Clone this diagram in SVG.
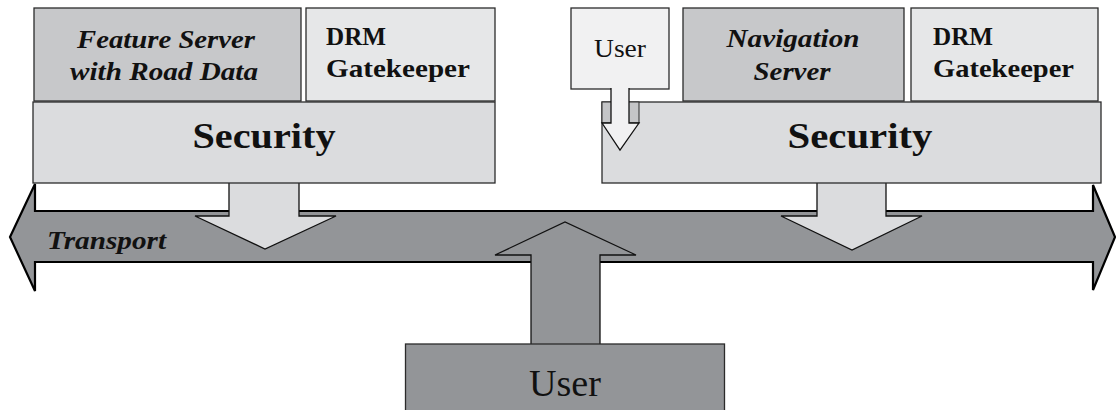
<svg xmlns="http://www.w3.org/2000/svg" width="1116" height="410" viewBox="0 0 1116 410">
<style>
text{font-family:"Liberation Serif","Times New Roman",serif;fill:#111}
.bx{stroke:#2b2b2b;stroke-width:1.3}
.srv{fill:#c7c8ca}
.drm{fill:#e6e7e8}
.sec{fill:#dbdcde}
.usr{fill:#f1f1f2}
.gry{fill:#939598}
.b{font-weight:bold}
.bi{font-weight:bold;font-style:italic}
.arr{stroke:#111;stroke-width:1.3;stroke-linejoin:miter}
</style>
<rect width="1116" height="410" fill="#ffffff"/>

<g id="transport">
<path class="gry" d="M10,237 L35,184 L35,211 L1093,211 L1093,185 L1115,237 L1093,290 L1093,262 L35,262 L35,291 Z" stroke="#000" stroke-width="2.2" stroke-linejoin="miter"/>
<text class="bi" x="47" y="249" font-size="25" textLength="119" lengthAdjust="spacingAndGlyphs">Transport</text>
</g>

<g id="connectors">
<path class="sec arr" d="M229,183 V216 H195 L265,249 L336,216 H299 V183"/>
<path class="sec arr" d="M817,183 V216 H781 L852,250 L922,216 H886 V183"/>
<path class="gry arr" d="M531,344 V255 H495 L565,222 L636,255 H600 V344"/>
</g>

<g id="user-bottom">
<rect class="gry bx" x="405.5" y="344" width="319" height="70"/>
<text x="565" y="396" font-size="38" text-anchor="middle" textLength="72" lengthAdjust="spacingAndGlyphs">User</text>
</g>

<g id="feature-server">
<rect class="srv bx" x="34" y="8" width="267" height="93"/>
<text class="bi" x="166" y="48" font-size="26" text-anchor="middle" textLength="178" lengthAdjust="spacingAndGlyphs">Feature Server</text>
<text class="bi" x="164" y="80" font-size="26" text-anchor="middle" textLength="188" lengthAdjust="spacingAndGlyphs">with Road Data</text>
</g>

<g id="drm-left">
<rect class="drm bx" x="306" y="8" width="189" height="93"/>
<text class="b" x="326" y="45" font-size="26" textLength="60" lengthAdjust="spacingAndGlyphs">DRM</text>
<text class="b" x="326" y="77" font-size="26" textLength="144" lengthAdjust="spacingAndGlyphs">Gatekeeper</text>
</g>

<g id="security-left">
<rect class="sec bx" x="33" y="102" width="462" height="81"/>
<text class="b" x="264" y="148" font-size="35" text-anchor="middle" textLength="143" lengthAdjust="spacingAndGlyphs">Security</text>
</g>

<g id="navigation-server">
<rect class="srv bx" x="683" y="8" width="221" height="93"/>
<text class="bi" x="793" y="47" font-size="26" text-anchor="middle" textLength="133" lengthAdjust="spacingAndGlyphs">Navigation</text>
<text class="bi" x="792" y="80" font-size="26" text-anchor="middle" textLength="77" lengthAdjust="spacingAndGlyphs">Server</text>
</g>

<g id="drm-right">
<rect class="drm bx" x="911" y="8" width="187" height="93"/>
<text class="b" x="933" y="45" font-size="26" textLength="60" lengthAdjust="spacingAndGlyphs">DRM</text>
<text class="b" x="933" y="77" font-size="26" textLength="141" lengthAdjust="spacingAndGlyphs">Gatekeeper</text>
</g>

<g id="security-right">
<rect class="sec bx" x="602" y="102" width="499" height="81"/>
<text class="b" x="860" y="148" font-size="35" text-anchor="middle" textLength="145" lengthAdjust="spacingAndGlyphs">Security</text>
</g>

<g id="user-top">
<rect class="usr bx" x="571" y="8" width="98" height="81"/>
<text x="620" y="57" font-size="25" text-anchor="middle" textLength="52" lengthAdjust="spacingAndGlyphs">User</text>
<rect x="602" y="102" width="37" height="21" fill="#c4c5c7" stroke="#2b2b2b" stroke-width="1"/>
<path class="usr arr" d="M611,88 V123 H602 L620,150 L639,123 H629 V88"/>
</g>
</svg>
